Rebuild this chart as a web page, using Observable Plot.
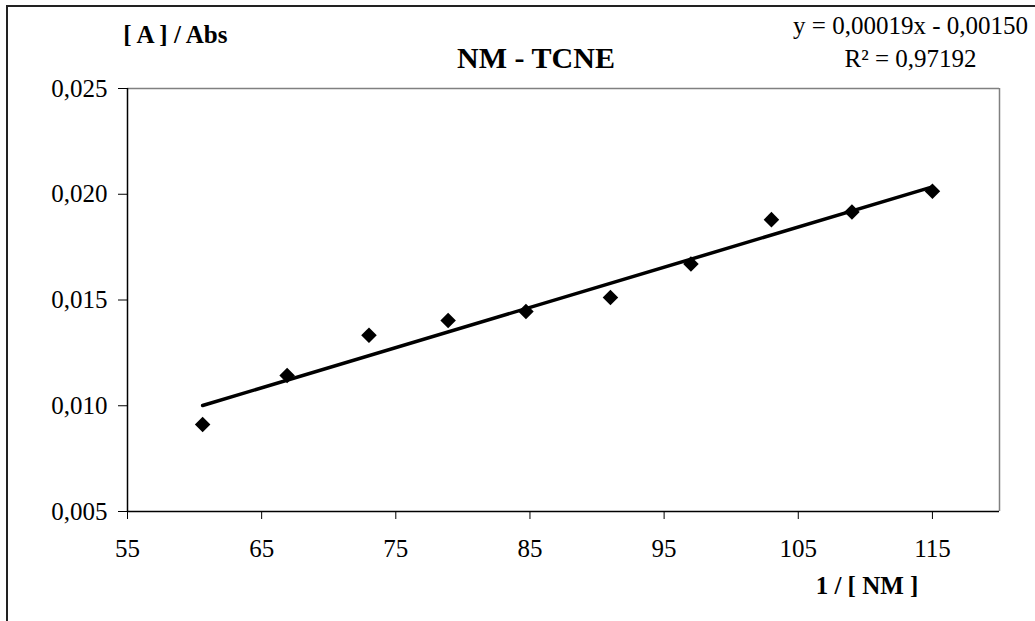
<!DOCTYPE html>
<html>
<head>
<meta charset="utf-8">
<script src="https://cdn.jsdelivr.net/npm/d3@7"></script>
<script src="https://cdn.jsdelivr.net/npm/@observablehq/plot@0.6"></script>
<style>
  html, body { margin: 0; padding: 0; background: #fff; overflow: hidden; }
  #wrap { position: relative; width: 1035px; height: 621px; overflow: hidden; }
  #outline { position: absolute; left: 6px; top: 5px; width: 1200px; height: 800px;
             border-left: 2px solid #222; border-top: 2px solid #222; pointer-events: none; }
</style>
</head>
<body>
<div id="wrap"><div id="outline"></div></div>
<script>
// Reciprocal concentration 1/[NM] and absorbance ratio [A]/Abs
const invNM = [60.6, 66.9, 73.0, 78.9, 84.7, 91.0, 97.0, 103.0, 109.0, 115.0];
const ratio = [0.00911, 0.01143, 0.01333, 0.01403, 0.01446, 0.01512, 0.0167, 0.0188, 0.01916, 0.02014];

// Linear fit as reported on the chart
const slope = 0.00019;
const intercept = -0.00150;
const r2 = 0.97192;

const xTicks = [55, 65, 75, 85, 95, 105, 115];
const yTicks = [0.005, 0.010, 0.015, 0.020, 0.025];
const xDomain = [55, 120];
const yDomain = [0.005, 0.025];

const points = invNM.map((x, i) => ({x, y: ratio[i]}));
const xMin = d3.min(invNM), xMax = d3.max(invNM);
const fit = [xMin, xMax].map(x => ({x, y: slope * x + intercept}));

const comma = (v, n) => v.toFixed(n).replace(".", ",");
const fmtSigned = v => (v < 0 ? "- " : "+ ") + comma(Math.abs(v), 5);
const eqText = `y = ${comma(slope, 5)}x ${fmtSigned(intercept)}\nR² = ${comma(r2, 5)}`;

const serif = "'Liberation Serif', 'Times New Roman', serif";

const chart = Plot.plot({
  width: 1035,
  height: 621,
  marginLeft: 127,
  marginRight: 36,
  marginTop: 88,
  marginBottom: 110,
  style: {fontFamily: serif, fontSize: "25px", background: "white", color: "#000", overflow: "visible"},
  x: {domain: xDomain},
  y: {domain: yDomain},
  marks: [
    // plot-area edges: top and right in grey, axes in black
    Plot.ruleY([yDomain[1]], {stroke: "#808080", strokeWidth: 1.5}),
    Plot.ruleX([xDomain[1]], {stroke: "#808080", strokeWidth: 1.5}),
    Plot.ruleX([xDomain[0]], {stroke: "#000", strokeWidth: 1.5}),
    Plot.ruleY([yDomain[0]], {stroke: "#000", strokeWidth: 1.5}),
    Plot.axisX({ticks: xTicks, tickSize: 8, tickPadding: 20, tickFormat: d => String(d),
                label: null, fontSize: 25, stroke: "#000"}),
    Plot.axisY({ticks: yTicks, tickSize: 9, tickPadding: 11, tickFormat: d => comma(d, 3),
                label: null, fontSize: 25, stroke: "#000"}),
    // trend line
    Plot.line(fit, {x: "x", y: "y", stroke: "#000", strokeWidth: 3.5}),
    // measurements
    Plot.dot(points, {x: "x", y: "y", symbol: "diamond2", r: 7, fill: "#000", stroke: "none"}),
    // titles and annotations
    Plot.text(["NM - TCNE"], {text: d => d, frameAnchor: "top", dx: -27.5, dy: -21,
                              lineAnchor: "bottom", fontWeight: "bold", fontSize: 30}),
    Plot.text(["[ A ] / Abs"], {text: d => d, frameAnchor: "top-left", textAnchor: "start",
                                dx: -4.3, dy: -46, lineAnchor: "bottom", fontWeight: "bold", fontSize: 25}),
    Plot.text(["1 / [ NM ]"], {text: d => d, frameAnchor: "bottom-right", textAnchor: "middle",
                               dx: -132.5, dy: 82, lineAnchor: "bottom", fontWeight: "bold", fontSize: 25}),
    Plot.text([eqText], {text: d => d, frameAnchor: "top-right", textAnchor: "middle",
                         dx: -89, dy: -22, lineAnchor: "bottom", lineHeight: 1.3, fontSize: 25})
  ]
});
chart.style.position = "absolute";
chart.style.left = "0";
chart.style.top = "0";
document.getElementById("wrap").prepend(chart);
</script>
</body>
</html>
